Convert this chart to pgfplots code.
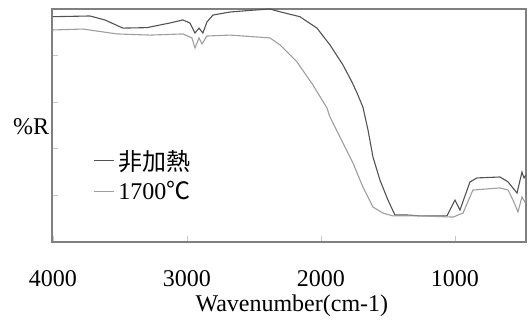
\documentclass[border=0pt]{standalone}
\usepackage{pgfplots}
\pgfplotsset{compat=1.18}
\usepackage{fontspec}
\setmainfont{Liberation Serif}
\newfontfamily\cjk{Noto Sans CJK JP}
\definecolor{darkc}{gray}{0.32}
\definecolor{lightc}{gray}{0.62}
\definecolor{framec}{gray}{0.5}
\newcommand{\bigf}{\fontsize{24bp}{28bp}\selectfont}
\begin{document}
\begin{tikzpicture}
\useasboundingbox (0,0) rectangle (528bp,320bp);
\begin{axis}[
  at={(52bp,78bp)}, anchor=south west,
  scale only axis, width=474bp, height=233bp,
  x dir=reverse, xmin=470, xmax=4007, ymin=0, ymax=100,
  axis line style={framec, line width=1.1bp},
  xtick={4000,3000,2000,1000}, xticklabels={4000,3000,2000,1000},
  ytick={20,40,60,80}, yticklabels={},
  tick align=inside, xtick pos=bottom, ytick pos=left,
  major tick length=6bp,
  tick style={gray!45, line width=0.8bp},
  xticklabel style={font=\bigf, anchor=base, yshift=-44bp},
  every axis x label/.style={at={(axis description cs:0.506,0)}, anchor=base, yshift=-69bp, font=\bigf},
  every axis y label/.style={at={(axis description cs:-0.044,0.494)}, anchor=center, font=\bigf},
  xlabel={Wavenumber(cm-1)},
  ylabel={\%R},
  legend style={draw=none, fill=none, at={(axis description cs:0.0865,0.40)}, anchor=north west,
    inner sep=0pt, row sep=8bp, column sep=3bp, font=\bigf, nodes={inner sep=1bp}},
  legend cell align=left,
  legend image code/.code={\draw[#1] (0bp,0bp) -- (20bp,0bp);},
]
\addplot[darkc, line width=1.1bp] coordinates {
(4000,96.7) (3724,97.0) (3612,95.3) (3478,91.8) (3299,92.0) (3127,94.0) (3030,95.3)
(2978,94.0) (2940,89.7) (2910,91.8) (2881,89.7) (2851,94.4) (2806,97.4) (2679,98.7)
(2530,99.4) (2381,100) (2306,98.8) (2157,96.7) (2030,91.8) (1933,84.6) (1836,76.0)
(1769,68.7) (1731,64.0) (1687,57.9) (1649,48.1) (1612,36.5) (1560,26.6) (1500,18.0)
(1448,11.6) (1358,11.6) (1261,11.2)
(1060,11.2) (1000,18.0) (963,13.7) (888,25.8) (836,27.5) (664,27.9) (604,25.8)
(537,21.0) (500,30.0) (485,27.5) (470,28.8)
};
\addlegendentry{{\cjk 非加熱}}
\addplot[lightc, line width=1.1bp] coordinates {
(4000,91.0) (3776,91.4) (3522,89.3) (3276,88.8) (3030,89.3) (2963,87.6) (2940,83.3)
(2910,87.6) (2888,85.0) (2851,88.4) (2679,88.8) (2381,87.6) (2306,84.6) (2179,77.3)
(2060,67.4) (1955,57.5) (1933,53.7) (1836,42.5) (1761,33.9) (1687,23.6) (1612,15.0)
(1537,12.4) (1463,11.2) (1261,11.2) (1015,10.7) (940,12.4) (866,22.3) (664,23.2) (604,22.3)
(567,18.0) (530,12.9) (500,19.3) (478,17.2) (470,18.9)
};
\addlegendentry{1700{\cjk ℃}}
\end{axis}
\end{tikzpicture}
\end{document}
